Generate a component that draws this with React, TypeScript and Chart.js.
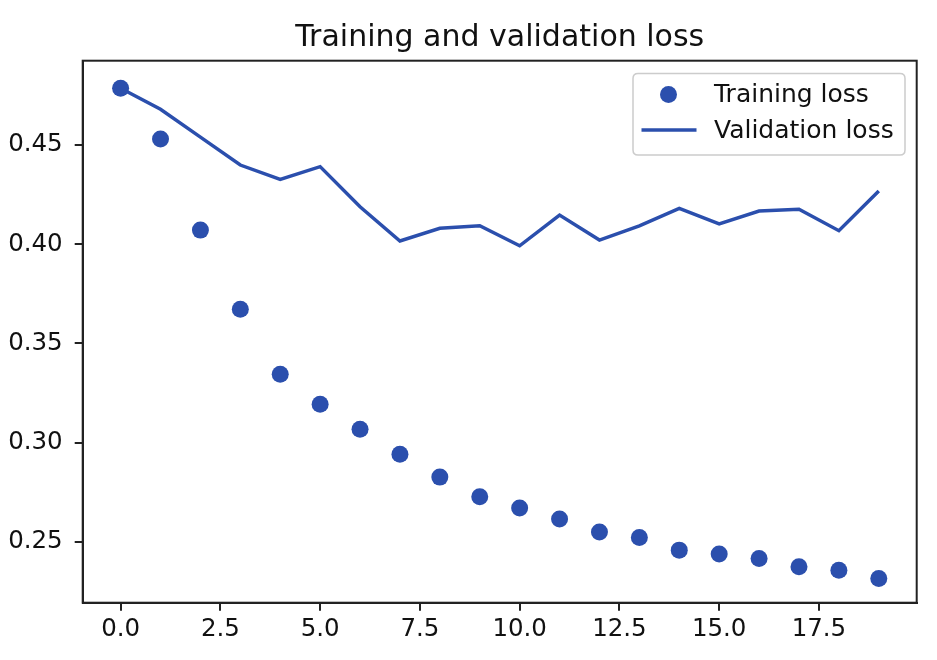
import React, { useEffect, useRef } from "react";
import { Chart, registerables } from "chart.js";

Chart.register(...registerables);

const epochs = [0, 1, 2, 3, 4, 5, 6, 7, 8, 9, 10, 11, 12, 13, 14, 15, 16, 17, 18, 19];
const trainingLoss = [
  0.4786, 0.453, 0.4071, 0.3672, 0.3344, 0.3193, 0.3067, 0.2941, 0.2826, 0.2727,
  0.267, 0.2615, 0.2549, 0.2522, 0.2458, 0.2438, 0.2416, 0.2374, 0.2357, 0.2315,
];
const validationLoss = [
  0.4786, 0.468, 0.454, 0.4399, 0.4327, 0.4391, 0.4189, 0.4016, 0.408, 0.4093,
  0.3992, 0.4147, 0.4021, 0.4092, 0.4181, 0.4102, 0.4167, 0.4176, 0.4068, 0.4268,
];
const xTickValues = [0, 2.5, 5, 7.5, 10, 12.5, 15, 17.5];
const yTickValues = [0.25, 0.3, 0.35, 0.4, 0.45];
const chartTitle = "Training and validation loss";
const seriesLabels = ["Training loss", "Validation loss"];

const BLUE = "#2b4fad";
const FONT = "'DejaVu Sans', sans-serif";

const framePlugin = {
  id: "frameAndExtras",
  afterDraw(chart: any) {
    const { ctx, chartArea } = chart;
    const { left, right, top, bottom } = chartArea;
    ctx.save();
    // full frame (spines)
    ctx.strokeStyle = "#222";
    ctx.lineWidth = 2;
    ctx.strokeRect(left, top, right - left, bottom - top);

    // title
    ctx.fillStyle = "#111";
    ctx.font = `30px ${FONT}`;
    ctx.textAlign = "center";
    ctx.textBaseline = "alphabetic";
    ctx.fillText(chartTitle, (left + right) / 2, 46);

    // legend
    const bx = 633, by = 73.5, bw = 272, bh = 81.5, r = 5;
    ctx.beginPath();
    ctx.moveTo(bx + r, by);
    ctx.lineTo(bx + bw - r, by);
    ctx.quadraticCurveTo(bx + bw, by, bx + bw, by + r);
    ctx.lineTo(bx + bw, by + bh - r);
    ctx.quadraticCurveTo(bx + bw, by + bh, bx + bw - r, by + bh);
    ctx.lineTo(bx + r, by + bh);
    ctx.quadraticCurveTo(bx, by + bh, bx, by + bh - r);
    ctx.lineTo(bx, by + r);
    ctx.quadraticCurveTo(bx, by, bx + r, by);
    ctx.closePath();
    ctx.fillStyle = "rgba(255,255,255,0.8)";
    ctx.fill();
    ctx.strokeStyle = "#cccccc";
    ctx.lineWidth = 1.5;
    ctx.stroke();

    // entry 1: marker
    ctx.fillStyle = BLUE;
    ctx.beginPath();
    ctx.arc(668.5, 94.5, 8.5, 0, Math.PI * 2);
    ctx.fill();
    // entry 2: line
    ctx.strokeStyle = BLUE;
    ctx.lineWidth = 3.5;
    ctx.beginPath();
    ctx.moveTo(641.5, 130);
    ctx.lineTo(696.5, 130);
    ctx.stroke();

    ctx.fillStyle = "#111";
    ctx.font = `25px ${FONT}`;
    ctx.textAlign = "left";
    ctx.textBaseline = "middle";
    ctx.fillText(seriesLabels[0], 714, 95);
    ctx.fillText(seriesLabels[1], 714, 131);
    ctx.restore();
  },
};

export default function App() {
  const canvasRef = useRef<HTMLCanvasElement | null>(null);

  useEffect(() => {
    document.body.style.margin = "0";
    const canvas = canvasRef.current;
    if (!canvas) return;
    const chart = new Chart(canvas, {
      type: "line",
      data: {
        datasets: [
          {
            label: seriesLabels[0],
            data: epochs.map((e, i) => ({ x: e, y: trainingLoss[i] })),
            showLine: false,
            pointRadius: 8.5,
            pointBackgroundColor: BLUE,
            pointBorderWidth: 0,
            borderColor: BLUE,
            backgroundColor: BLUE,
          },
          {
            label: seriesLabels[1],
            data: epochs.map((e, i) => ({ x: e, y: validationLoss[i] })),
            borderColor: BLUE,
            borderWidth: 3.5,
            pointRadius: 0,
            tension: 0,
            fill: false,
          },
        ],
      },
      options: {
        animation: false,
        responsive: false,
        devicePixelRatio: 1,
        layout: { padding: { top: 60.7, right: 20.3, left: 0, bottom: 0 } },
        plugins: {
          legend: { display: false },
          title: { display: false },
          tooltip: { enabled: false },
        },
        scales: {
          x: {
            type: "linear",
            min: -0.95,
            max: 19.95,
            afterBuildTicks: (scale: any) => {
              scale.ticks = xTickValues.map((v) => ({ value: v }));
            },
            afterFit: (scale: any) => {
              scale.height = 57.3;
            },
            ticks: {
              callback: (v: any) => Number(v).toFixed(1),
              font: { family: FONT, size: 24.5 },
              color: "#111",
              padding: 4,
              maxRotation: 0,
              autoSkip: false,
            },
            grid: {
              drawOnChartArea: false,
              drawTicks: true,
              tickLength: 8,
              color: "#222",
              lineWidth: 2,
            },
            border: { display: true, color: "#222", width: 2 },
          },
          y: {
            type: "linear",
            min: 0.2193,
            max: 0.4925,
            afterBuildTicks: (scale: any) => {
              scale.ticks = yTickValues.map((v) => ({ value: v }));
            },
            afterFit: (scale: any) => {
              scale.width = 82.7;
            },
            ticks: {
              callback: (v: any) => Number(v).toFixed(2),
              font: { family: FONT, size: 24.5 },
              color: "#111",
              padding: 12,
              autoSkip: false,
            },
            grid: {
              drawOnChartArea: false,
              drawTicks: true,
              tickLength: 8,
              color: "#222",
              lineWidth: 2,
            },
            border: { display: true, color: "#222", width: 2 },
          },
        },
      },
      plugins: [framePlugin],
    });
    return () => chart.destroy();
  }, []);

  return (
    <div style={{ width: 937, height: 660, background: "#fff" }}>
      <canvas ref={canvasRef} width={937} height={660} style={{ display: "block" }} />
    </div>
  );
}
